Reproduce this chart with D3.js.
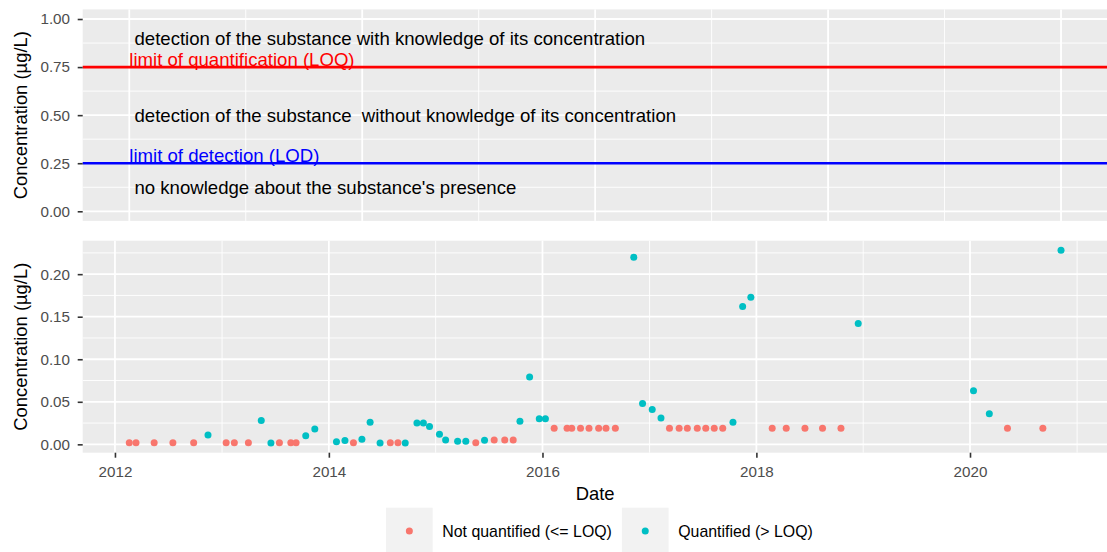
<!DOCTYPE html>
<html lang="en">
<head>
<meta charset="UTF-8">
<title>Concentration over time</title>
<style>
  body { margin: 0; background: #fff; }
  svg { display: block; font-family: "Liberation Sans", Arial, Helvetica, sans-serif; }
</style>
</head>
<body>
<svg id="chart" width="1107" height="552"></svg>
<script src="https://cdn.jsdelivr.net/npm/d3@7/dist/d3.min.js"></script>
<script>
// sampling dates, measured concentration (µg/L) and whether it was quantified
const dates = [
  "2012-02-19", "2012-03-13", "2012-05-14", "2012-07-17", "2012-09-26", "2012-11-14",
  "2013-01-15", "2013-02-12", "2013-04-01", "2013-05-15", "2013-06-17", "2013-07-16",
  "2013-08-24", "2013-09-11", "2013-10-14", "2013-11-14", "2014-01-27", "2014-02-25",
  "2014-03-26", "2014-04-24", "2014-05-22", "2014-06-25", "2014-07-30", "2014-08-25",
  "2014-09-19", "2014-10-29", "2014-11-20", "2014-12-11", "2015-01-14", "2015-02-04",
  "2015-03-17", "2015-04-14", "2015-05-18", "2015-06-17", "2015-07-20", "2015-08-25",
  "2015-09-23", "2015-10-16", "2015-11-18", "2015-12-21", "2016-01-11", "2016-02-10",
  "2016-03-25", "2016-04-10", "2016-05-10", "2016-06-08", "2016-07-11", "2016-08-05",
  "2016-09-06", "2016-11-08", "2016-12-08", "2017-01-10", "2017-02-09", "2017-03-10",
  "2017-04-12", "2017-05-10", "2017-06-13", "2017-07-12", "2017-08-10", "2017-09-08",
  "2017-10-13", "2017-11-15", "2017-12-13", "2018-02-24", "2018-04-13", "2018-06-16",
  "2018-08-15", "2018-10-17", "2018-12-15", "2020-01-13", "2020-03-07", "2020-05-08",
  "2020-09-06", "2020-11-07"
];
const conc = [
  0.002, 0.002, 0.002, 0.002, 0.002, 0.011,
  0.002, 0.002, 0.002, 0.028, 0.0015, 0.002,
  0.002, 0.002, 0.010, 0.018, 0.003, 0.0045,
  0.002, 0.006, 0.026, 0.0015, 0.002, 0.002,
  0.0015, 0.025, 0.025, 0.021, 0.012, 0.005,
  0.0035, 0.0035, 0.002, 0.0047, 0.005, 0.005,
  0.005, 0.027, 0.079, 0.030, 0.030, 0.019,
  0.019, 0.019, 0.019, 0.019, 0.019, 0.019,
  0.019, 0.220, 0.048, 0.041, 0.031, 0.019,
  0.019, 0.019, 0.019, 0.019, 0.019, 0.019,
  0.026, 0.162, 0.173, 0.019, 0.019, 0.019,
  0.019, 0.019, 0.142, 0.063, 0.036, 0.019,
  0.019, 0.228
];
const quantified = [
  0, 0, 0, 0, 0, 1,
  0, 0, 0, 1, 1, 0,
  0, 0, 1, 1, 1, 1,
  0, 1, 1, 1, 0, 0,
  1, 1, 1, 1, 1, 1,
  1, 1, 0, 1, 0, 0,
  0, 1, 1, 1, 1, 0,
  0, 0, 0, 0, 0, 0,
  0, 1, 1, 1, 1, 0,
  0, 0, 0, 0, 0, 0,
  1, 1, 1, 0, 0, 0,
  0, 0, 1, 1, 1, 0,
  0, 1
];
const seriesNames = ["Not quantified (<= LOQ)", "Quantified (> LOQ)"];

// explanatory panel
const refRange = [0, 4];
const limitValues = [0.75, 0.25];
const limitLabels = ["limit of quantification (LOQ)", "limit of detection (LOD)"];
const zoneLevels = [0.9, 0.5, 0.125];
const zoneTexts = [
  " detection of the substance with knowledge of its concentration",
  " detection of the substance  without knowledge of its concentration",
  " no knowledge about the substance's presence"
];

const topTicks = [0, 0.25, 0.5, 0.75, 1];
const bottomTicks = [0, 0.05, 0.1, 0.15, 0.2];
const yearTicks = [2012, 2014, 2016, 2018, 2020];

const svg = d3.select("#chart");
const left = 82.7, right = 1107.6;
const colours = ["#F8766D", "#00BFC4"];
const limitColours = ["#FF0000", "#0000FF"];
const tickFont = 15.2, legendFont = 15.9, titleFont = 18.4, noteFont = 18.6;

const parse = d3.timeParse("%Y-%m-%d");
const points = dates.map((d, i) => ({ date: parse(d), value: conc[i], q: quantified[i] }));

function expand(lo, hi) {
  const p = (hi - lo) * 0.05;
  return [lo - p, hi + p];
}

// half-way lines between majors (ggplot minor grid)
function minors(major, domain) {
  const step = major[1] - major[0];
  const out = [];
  for (let v = major[0] - step / 2; v <= major[major.length - 1] + step; v += step) {
    if (v >= domain[0] && v <= domain[1]) out.push(v);
  }
  return out;
}

function panel(x, y, xMajor, xMinor, yMajor, yMinor) {
  const [x0, x1] = x.range();
  const [y1, y0] = y.range();
  const g = svg.append("g");
  g.append("rect").attr("x", x0).attr("y", y0)
    .attr("width", x1 - x0).attr("height", y1 - y0).attr("fill", "#EBEBEB");
  const lines = (vals, horiz, w) => {
    g.selectAll(null).data(vals).enter().append("line")
      .attr("x1", d => horiz ? x0 : x(d)).attr("x2", d => horiz ? x1 : x(d))
      .attr("y1", d => horiz ? y(d) : y0).attr("y2", d => horiz ? y(d) : y1)
      .attr("stroke", "#fff").attr("stroke-width", w);
  };
  lines(yMinor, true, 0.9);
  lines(xMinor, false, 0.9);
  lines(yMajor, true, 1.8);
  lines(xMajor, false, 1.8);
  return g;
}

function styleAxis(g) {
  g.select(".domain").remove();
  g.selectAll(".tick line").attr("stroke", "#333333").attr("stroke-width", 1.6);
  g.selectAll(".tick text").attr("fill", "#4D4D4D").attr("font-size", tickFont)
    .attr("font-family", "Liberation Sans, Arial, sans-serif");
}

// ---- top panel: limits explained
const xTop = d3.scaleLinear().domain(expand(refRange[0], refRange[1])).range([left, right]);
const yTop = d3.scaleLinear().domain(expand(0, 1)).range([220.9, 9.4]);
const xTopMajor = d3.range(refRange[0], refRange[1] + 1);
panel(xTop, yTop, xTopMajor, minors(xTopMajor, xTop.domain()), topTicks, minors(topTicks, yTop.domain()));

svg.selectAll(".limit").data(limitValues).enter().append("line")
  .attr("x1", left).attr("x2", right)
  .attr("y1", d => yTop(d)).attr("y2", d => yTop(d))
  .attr("stroke", (d, i) => limitColours[i]).attr("stroke-width", 2.6);

svg.selectAll(".limitLabel").data(limitValues).enter().append("text")
  .attr("x", xTop(refRange[0]))
  .attr("y", d => yTop(d) - 1.5)
  .attr("font-size", noteFont)
  .attr("fill", (d, i) => limitColours[i])
  .text((d, i) => limitLabels[i]);

svg.selectAll(".zone").data(zoneLevels).enter().append("text")
  .attr("x", xTop(refRange[0]))
  .attr("y", d => yTop(d))
  .attr("dy", "0.35em")
  .attr("font-size", noteFont)
  .attr("fill", "#000")
  .attr("xml:space", "preserve")
  .style("white-space", "pre")
  .text((d, i) => zoneTexts[i]);

svg.append("g").attr("transform", `translate(${left},0)`)
  .call(d3.axisLeft(yTop).tickValues(topTicks).tickFormat(d3.format(".2f")).tickSize(5).tickPadding(7.7))
  .call(styleAxis);

// ---- bottom panel: measurements
const xDom = d3.extent(points, d => d.date);
const span = (xDom[1] - xDom[0]) * 0.05;
const x = d3.scaleTime()
  .domain([new Date(+xDom[0] - span), new Date(+xDom[1] + span)])
  .range([left, right]);
const yDom = d3.extent(points, d => d.value);
const y = d3.scaleLinear().domain(expand(yDom[0], yDom[1])).range([452.7, 240.7]);

const yearDates = yearTicks.map(yr => new Date(yr, 0, 1));
const allYears = d3.range(2011, 2023).map(yr => new Date(yr, 0, 1))
  .filter(d => d >= x.domain()[0] && d <= x.domain()[1]);
panel(x, y, allYears.filter(d => d.getFullYear() % 2 === 0),
  allYears.filter(d => d.getFullYear() % 2 === 1),
  bottomTicks, minors(bottomTicks, y.domain()));

svg.append("g").selectAll("circle").data(points).enter().append("circle")
  .attr("cx", d => x(d.date))
  .attr("cy", d => y(d.value))
  .attr("r", 3.5)
  .attr("fill", d => colours[d.q]);

svg.append("g").attr("transform", `translate(${left},0)`)
  .call(d3.axisLeft(y).tickValues(bottomTicks).tickFormat(d3.format(".2f")).tickSize(5).tickPadding(7.7))
  .call(styleAxis);

svg.append("g").attr("transform", `translate(0,${y.range()[0]})`)
  .call(d3.axisBottom(x).tickValues(yearDates).tickFormat(d3.timeFormat("%Y")).tickSize(5).tickPadding(9))
  .call(styleAxis);

// axis titles
[yTop, y].forEach(s => {
  const cy = (s.range()[0] + s.range()[1]) / 2;
  svg.append("text")
    .attr("transform", `translate(21,${cy}) rotate(-90)`)
    .attr("text-anchor", "middle")
    .attr("dy", "0.35em")
    .attr("font-size", titleFont)
    .text("Concentration (µg/L)");
});

svg.append("text")
  .attr("x", (left + right) / 2).attr("y", 500)
  .attr("text-anchor", "middle")
  .attr("font-size", titleFont)
  .text("Date");

// legend
const legend = svg.append("g");
let lx = 386;
const keySize = 46.7, keyTop = 507.7;
seriesNames.forEach((name, i) => {
  legend.append("rect").attr("x", lx).attr("y", keyTop)
    .attr("width", keySize).attr("height", keySize).attr("fill", "#F2F2F2");
  legend.append("circle").attr("cx", lx + keySize / 2).attr("cy", keyTop + keySize / 2)
    .attr("r", 3.5).attr("fill", colours[i]);
  const t = legend.append("text").attr("x", lx + keySize + 9.6).attr("y", keyTop + keySize / 2)
    .attr("dy", "0.35em").attr("font-size", legendFont).attr("fill", "#000").text(name);
  lx += keySize + 9.6 + t.node().getComputedTextLength() + 10;
});
</script>
</body>
</html>
